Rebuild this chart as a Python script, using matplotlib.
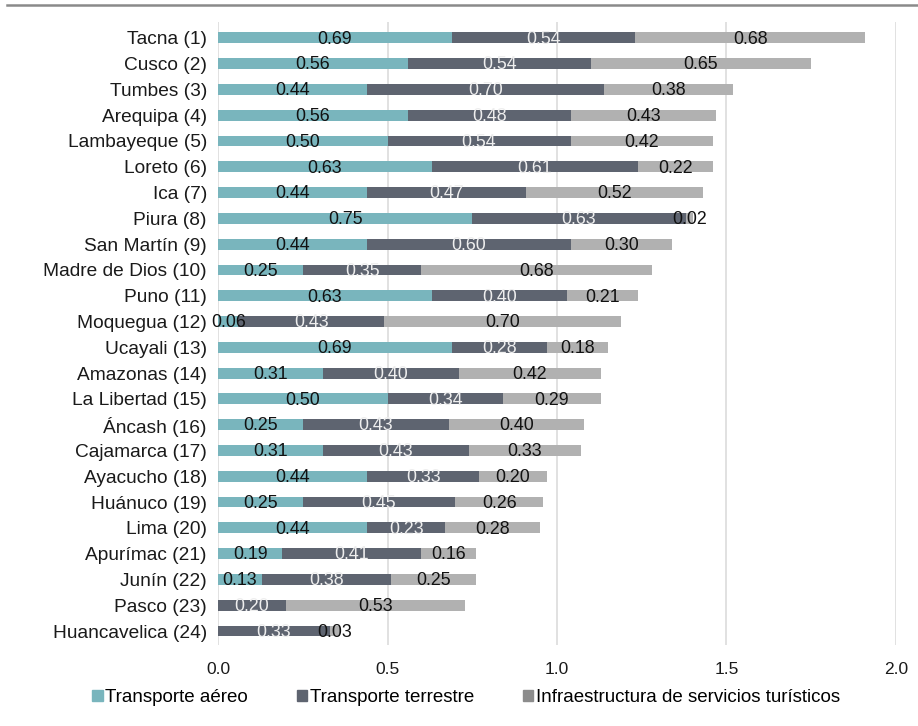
import matplotlib
matplotlib.use("Agg")
import matplotlib.pyplot as plt
from matplotlib.lines import Line2D
import numpy as np

plt.rcParams['font.family'] = ['Liberation Sans', 'DejaVu Sans']

regiones = ["Tacna (1)", "Cusco (2)", "Tumbes (3)", "Arequipa (4)", "Lambayeque (5)",
            "Loreto (6)", "Ica (7)", "Piura (8)", "San Martín (9)", "Madre de Dios (10)",
            "Puno (11)", "Moquegua (12)", "Ucayali (13)", "Amazonas (14)", "La Libertad (15)",
            "Áncash (16)", "Cajamarca (17)", "Ayacucho (18)", "Huánuco (19)", "Lima (20)",
            "Apurímac (21)", "Junín (22)", "Pasco (23)", "Huancavelica (24)"]

transporte_aereo = [0.69, 0.56, 0.44, 0.56, 0.50, 0.63, 0.44, 0.75, 0.44, 0.25,
                    0.63, 0.06, 0.69, 0.31, 0.50, 0.25, 0.31, 0.44, 0.25, 0.44,
                    0.19, 0.13, 0.00, 0.00]
transporte_terrestre = [0.54, 0.54, 0.70, 0.48, 0.54, 0.61, 0.47, 0.63, 0.60, 0.35,
                        0.40, 0.43, 0.28, 0.40, 0.34, 0.43, 0.43, 0.33, 0.45, 0.23,
                        0.41, 0.38, 0.20, 0.33]
infraestructura = [0.68, 0.65, 0.38, 0.43, 0.42, 0.22, 0.52, 0.02, 0.30, 0.68,
                   0.21, 0.70, 0.18, 0.42, 0.29, 0.40, 0.33, 0.20, 0.26, 0.28,
                   0.16, 0.25, 0.53, 0.03]

series_names = ["Transporte aéreo", "Transporte terrestre",
                "Infraestructura de servicios turísticos"]
x_ticks = [0.0, 0.5, 1.0, 1.5, 2.0]

colors = ["#79b5bd", "#5e6470", "#b1b1b1"]
legend_colors = ["#79b5bd", "#5e6470", "#8c8c8c"]
text_colors = ["#111111", "#eeeeee", "#111111"]

fig = plt.figure(figsize=(9.18, 7.26), dpi=100)
ax = fig.add_axes([0.2375, 0.1116, 0.7385, 0.8584])

y = np.arange(len(regiones))
left = np.zeros(len(regiones))
bar_h = 0.42
for vals, col, tcol, name in zip([transporte_aereo, transporte_terrestre, infraestructura],
                                 colors, text_colors, series_names):
    vals = np.array(vals)
    ax.barh(y, vals, left=left, height=bar_h, color=col, label=name, zorder=2)
    for yi, l, v in zip(y, left, vals):
        if v > 0:
            ax.text(l + v / 2, yi + 0.05, f"{v:.2f}", ha="center", va="center",
                    fontsize=12.8, color=tcol, zorder=3)
    left = left + vals

ax.set_ylim(len(regiones) - 0.46, -0.62)
ax.set_xlim(0, 2.0)
ax.set_xticks(x_ticks)
ax.set_xticklabels([f"{t:.1f}" for t in x_ticks], fontsize=12.5)
ax.set_yticks(y)
ax.set_yticklabels(regiones, fontsize=13.8)
ax.tick_params(axis="both", length=0, colors="#1a1a1a")
ax.tick_params(axis="x", pad=12)
ax.tick_params(axis="y", pad=8)
for s in ax.spines.values():
    s.set_visible(False)
ax.grid(axis="x", color="#dcdcdc", linewidth=1.2, zorder=0)
ax.set_axisbelow(True)

handles = [plt.Rectangle((0, 0), 1, 1, color=c) for c in legend_colors]
fig.legend(handles=handles, labels=series_names, loc="center", ncol=3,
           bbox_to_anchor=(0.508, 0.039), frameon=False, fontsize=13.5,
           handlelength=0.55, handleheight=0.55, handletextpad=0.15,
           columnspacing=2.6)

fig.add_artist(Line2D([0.008, 1.0], [0.993, 0.993], color="#8a8a8a",
                      linewidth=1.8, transform=fig.transFigure))

fig.savefig("out.png", dpi=100, facecolor="white")
